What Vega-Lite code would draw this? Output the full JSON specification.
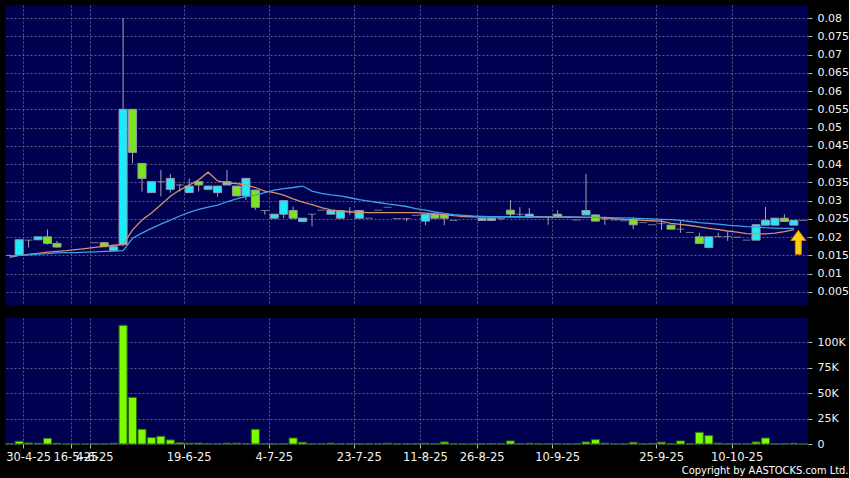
{
 "$schema": "https://vega.github.io/schema/vega-lite/v6.json",
 "background": "#000000",
 "padding": {"left": 5, "top": 5, "right": 0, "bottom": 2},
 "datasets": {
  "k": [
   {"d":"25-4-25","o":0.015,"h":0.0153,"l":0.0148,"c":0.015,"v":300,"m1":0.0145,"m2":0.0148},
   {"d":"29-4-25","o":0.015,"h":0.0193,"l":0.015,"c":0.0193,"v":2700,"m1":0.015,"m2":0.015},
   {"d":"30-4-25","o":0.0192,"h":0.0192,"l":0.0172,"c":0.0192,"v":1000,"m1":0.0153,"m2":0.0152},
   {"d":"2-5-25","o":0.0193,"h":0.0201,"l":0.0192,"c":0.0201,"v":700,"m1":0.0156,"m2":0.0154},
   {"d":"6-5-25","o":0.0201,"h":0.0221,"l":0.018,"c":0.0183,"v":5600,"m1":0.0159,"m2":0.0155},
   {"d":"9-5-25","o":0.0183,"h":0.019,"l":0.0172,"c":0.0173,"v":700,"m1":0.0161,"m2":0.0157},
   {"d":"13-5-25","o":null,"h":null,"l":null,"c":null,"v":0,"m1":0.0163,"m2":0.0158},
   {"d":"16-5-25","o":null,"h":null,"l":null,"c":null,"v":0,"m1":0.0166,"m2":0.0158},
   {"d":"23-5-25","o":null,"h":null,"l":null,"c":null,"v":0,"m1":0.0169,"m2":0.0159},
   {"d":"4-6-25","o":0.0185,"h":0.0185,"l":0.0185,"c":0.0185,"v":300,"m1":0.0172,"m2":0.016},
   {"d":"5-6-25","o":0.0185,"h":0.0185,"l":0.0174,"c":0.0174,"v":200,"m1":0.0175,"m2":0.0161},
   {"d":"6-6-25","o":0.0163,"h":0.0174,"l":0.0163,"c":0.0174,"v":700,"m1":0.0178,"m2":0.0162},
   {"d":"9-6-25","o":0.018,"h":0.08,"l":0.0175,"c":0.055,"v":116800,"m1":0.018,"m2":0.0163},
   {"d":"10-6-25","o":0.055,"h":0.055,"l":0.0402,"c":0.0432,"v":45900,"m1":0.022,"m2":0.0197},
   {"d":"11-6-25","o":0.0402,"h":0.0402,"l":0.0325,"c":0.0361,"v":14500,"m1":0.0247,"m2":0.0211},
   {"d":"12-6-25","o":0.0322,"h":0.0352,"l":0.0322,"c":0.0352,"v":6300,"m1":0.0266,"m2":0.0224},
   {"d":"13-6-25","o":0.0352,"h":0.0384,"l":0.0312,"c":0.0352,"v":7600,"m1":0.0289,"m2":0.0236},
   {"d":"16-6-25","o":0.0331,"h":0.0373,"l":0.0322,"c":0.0361,"v":4000,"m1":0.0312,"m2":0.0247},
   {"d":"17-6-25","o":0.0343,"h":0.0345,"l":0.0325,"c":0.0343,"v":1200,"m1":0.0329,"m2":0.0258},
   {"d":"19-6-25","o":0.0322,"h":0.0361,"l":0.0322,"c":0.034,"v":800,"m1":0.0343,"m2":0.0268},
   {"d":"20-6-25","o":0.0352,"h":0.0352,"l":0.0325,"c":0.0343,"v":900,"m1":0.0357,"m2":0.0276},
   {"d":"23-6-25","o":0.0331,"h":0.034,"l":0.0331,"c":0.034,"v":300,"m1":0.0378,"m2":0.0282},
   {"d":"24-6-25","o":0.0322,"h":0.034,"l":0.0311,"c":0.034,"v":300,"m1":0.0354,"m2":0.0288},
   {"d":"25-6-25","o":0.0343,"h":0.0384,"l":0.0343,"c":0.0352,"v":800,"m1":0.0349,"m2":0.0297},
   {"d":"26-6-25","o":0.034,"h":0.034,"l":0.0313,"c":0.0313,"v":800,"m1":0.0347,"m2":0.0305},
   {"d":"27-6-25","o":0.0313,"h":0.0361,"l":0.0302,"c":0.0361,"v":400,"m1":0.0343,"m2":0.0311},
   {"d":"30-6-25","o":0.0329,"h":0.0329,"l":0.0275,"c":0.0282,"v":14500,"m1":0.0336,"m2":0.0315},
   {"d":"3-7-25","o":0.0273,"h":0.0273,"l":0.0262,"c":0.0273,"v":500,"m1":0.0326,"m2":0.0322},
   {"d":"4-7-25","o":0.0252,"h":0.0263,"l":0.0252,"c":0.0263,"v":200,"m1":0.0322,"m2":0.0329},
   {"d":"7-7-25","o":0.0263,"h":0.03,"l":0.0252,"c":0.03,"v":300,"m1":0.0315,"m2":0.0333},
   {"d":"8-7-25","o":0.0273,"h":0.0284,"l":0.0252,"c":0.0252,"v":5900,"m1":0.0305,"m2":0.0336},
   {"d":"9-7-25","o":0.0243,"h":0.0252,"l":0.0243,"c":0.0252,"v":1700,"m1":0.0296,"m2":0.034},
   {"d":"10-7-25","o":0.0263,"h":0.0263,"l":0.023,"c":0.0263,"v":300,"m1":0.0289,"m2":0.0326},
   {"d":"11-7-25","o":0.0274,"h":0.0274,"l":0.0274,"c":0.0274,"v":300,"m1":0.0281,"m2":0.032},
   {"d":"14-7-25","o":0.0263,"h":0.0273,"l":0.0263,"c":0.0273,"v":800,"m1":0.0275,"m2":0.0316},
   {"d":"15-7-25","o":0.0252,"h":0.0273,"l":0.0252,"c":0.0273,"v":300,"m1":0.0272,"m2":0.0313},
   {"d":"17-7-25","o":0.0271,"h":0.0282,"l":0.0261,"c":0.0271,"v":300,"m1":0.0269,"m2":0.0308},
   {"d":"23-7-25","o":0.0252,"h":0.0273,"l":0.0252,"c":0.0273,"v":300,"m1":0.0268,"m2":0.0303},
   {"d":"24-7-25","o":0.0252,"h":0.0252,"l":0.0252,"c":0.0252,"v":200,"m1":0.0267,"m2":0.0299},
   {"d":"25-7-25","o":0.0274,"h":0.0274,"l":0.0274,"c":0.0274,"v":200,"m1":0.0267,"m2":0.0295},
   {"d":"28-7-25","o":0.0282,"h":0.0282,"l":0.0282,"c":0.0282,"v":700,"m1":0.0267,"m2":0.0291},
   {"d":"30-7-25","o":0.0251,"h":0.0251,"l":0.0251,"c":0.0251,"v":200,"m1":0.0267,"m2":0.0288},
   {"d":"1-8-25","o":0.0251,"h":0.0251,"l":0.0244,"c":0.0251,"v":200,"m1":0.0267,"m2":0.0284},
   {"d":"6-8-25","o":0.026,"h":0.026,"l":0.026,"c":0.026,"v":500,"m1":0.0267,"m2":0.0278},
   {"d":"11-8-25","o":0.0244,"h":0.0263,"l":0.0233,"c":0.0263,"v":700,"m1":0.0266,"m2":0.0274},
   {"d":"12-8-25","o":0.0263,"h":0.0263,"l":0.0252,"c":0.0252,"v":300,"m1":0.0264,"m2":0.0269},
   {"d":"14-8-25","o":0.0263,"h":0.0263,"l":0.0233,"c":0.0252,"v":2000,"m1":0.0262,"m2":0.0265},
   {"d":"18-8-25","o":0.0246,"h":0.0246,"l":0.0246,"c":0.0246,"v":200,"m1":0.0259,"m2":0.0262},
   {"d":"20-8-25","o":0.0256,"h":0.0256,"l":0.0256,"c":0.0256,"v":100,"m1":0.0257,"m2":0.026},
   {"d":"22-8-25","o":0.0256,"h":0.0256,"l":0.0256,"c":0.0256,"v":100,"m1":0.0256,"m2":0.0258},
   {"d":"26-8-25","o":0.0246,"h":0.0252,"l":0.0246,"c":0.0252,"v":300,"m1":0.0256,"m2":0.0257},
   {"d":"27-8-25","o":0.0246,"h":0.0252,"l":0.0246,"c":0.0252,"v":500,"m1":0.0256,"m2":0.0256},
   {"d":"28-8-25","o":0.0251,"h":0.0251,"l":0.0246,"c":0.0251,"v":500,"m1":0.0256,"m2":0.0256},
   {"d":"1-9-25","o":0.0274,"h":0.0302,"l":0.0252,"c":0.0263,"v":3000,"m1":0.0256,"m2":0.0256},
   {"d":"2-9-25","o":0.0263,"h":0.0282,"l":0.0252,"c":0.0263,"v":300,"m1":0.0256,"m2":0.0256},
   {"d":"3-9-25","o":0.0255,"h":0.028,"l":0.0255,"c":0.0263,"v":700,"m1":0.0256,"m2":0.0256},
   {"d":"5-9-25","o":0.0256,"h":0.0256,"l":0.0256,"c":0.0256,"v":200,"m1":0.0256,"m2":0.0255},
   {"d":"8-9-25","o":0.0256,"h":0.0256,"l":0.0234,"c":0.0256,"v":200,"m1":0.0255,"m2":0.0255},
   {"d":"10-9-25","o":0.0263,"h":0.0274,"l":0.0255,"c":0.0255,"v":300,"m1":0.0255,"m2":0.0255},
   {"d":"11-9-25","o":0.0256,"h":0.0256,"l":0.0256,"c":0.0256,"v":200,"m1":0.0255,"m2":0.0255},
   {"d":"12-9-25","o":0.0247,"h":0.0247,"l":0.0247,"c":0.0247,"v":200,"m1":0.0255,"m2":0.0255},
   {"d":"15-9-25","o":0.0261,"h":0.0373,"l":0.0261,"c":0.0273,"v":2000,"m1":0.0254,"m2":0.0254},
   {"d":"16-9-25","o":0.0261,"h":0.0261,"l":0.0244,"c":0.0244,"v":4300,"m1":0.0254,"m2":0.0254},
   {"d":"17-9-25","o":0.025,"h":0.0256,"l":0.0234,"c":0.025,"v":800,"m1":0.0252,"m2":0.0254},
   {"d":"18-9-25","o":0.0247,"h":0.0247,"l":0.0247,"c":0.0247,"v":200,"m1":0.0251,"m2":0.0253},
   {"d":"19-9-25","o":0.0245,"h":0.0245,"l":0.0245,"c":0.0245,"v":200,"m1":0.0249,"m2":0.0253},
   {"d":"22-9-25","o":0.0249,"h":0.0255,"l":0.0222,"c":0.0234,"v":1700,"m1":0.0248,"m2":0.0252},
   {"d":"23-9-25","o":0.024,"h":0.024,"l":0.024,"c":0.024,"v":200,"m1":0.0246,"m2":0.0251},
   {"d":"24-9-25","o":0.0234,"h":0.0234,"l":0.0234,"c":0.0234,"v":600,"m1":0.0245,"m2":0.025},
   {"d":"25-9-25","o":0.0237,"h":0.0247,"l":0.022,"c":0.0237,"v":1800,"m1":0.0244,"m2":0.0249},
   {"d":"26-9-25","o":0.0233,"h":0.0233,"l":0.0222,"c":0.0222,"v":300,"m1":0.0238,"m2":0.0248},
   {"d":"29-9-25","o":0.0222,"h":0.0244,"l":0.0212,"c":0.0222,"v":3000,"m1":0.0235,"m2":0.0246},
   {"d":"30-9-25","o":0.0213,"h":0.0213,"l":0.0213,"c":0.0213,"v":200,"m1":0.0232,"m2":0.0243},
   {"d":"2-10-25","o":0.0201,"h":0.0212,"l":0.0183,"c":0.0183,"v":11500,"m1":0.0228,"m2":0.024},
   {"d":"3-10-25","o":0.0172,"h":0.0201,"l":0.0172,"c":0.0201,"v":8300,"m1":0.0224,"m2":0.0238},
   {"d":"6-10-25","o":0.0202,"h":0.0212,"l":0.0202,"c":0.0202,"v":800,"m1":0.0221,"m2":0.0236},
   {"d":"8-10-25","o":0.0202,"h":0.0215,"l":0.019,"c":0.0202,"v":200,"m1":0.0217,"m2":0.0233},
   {"d":"10-10-25","o":0.02,"h":0.02,"l":0.02,"c":0.02,"v":500,"m1":0.0214,"m2":0.0231},
   {"d":"13-10-25","o":0.0192,"h":0.0192,"l":0.0192,"c":0.0192,"v":200,"m1":0.021,"m2":0.0229},
   {"d":"14-10-25","o":0.0192,"h":0.0234,"l":0.0192,"c":0.0234,"v":2000,"m1":0.0209,"m2":0.0228},
   {"d":"15-10-25","o":0.0233,"h":0.0283,"l":0.0233,"c":0.0246,"v":5900,"m1":0.0209,"m2":0.0226},
   {"d":"16-10-25","o":0.0233,"h":0.0252,"l":0.0233,"c":0.0252,"v":300,"m1":0.0211,"m2":0.0225},
   {"d":"17-10-25","o":0.0252,"h":0.0263,"l":0.0243,"c":0.0243,"v":300,"m1":0.0215,"m2":0.0224},
   {"d":"20-10-25","o":0.0233,"h":0.0246,"l":0.0233,"c":0.0246,"v":700,"m1":0.0221,"m2":0.0224},
   {"d":"21-10-25","o":0.0246,"h":0.0246,"l":0.0246,"c":0.0246,"v":0,"m1":null,"m2":null}
  ],
  "arrow": [{"d":"20-10-25","p":0.0186}]
 },
 "data": {"name": "k"},
 "spacing": 13,
 "bounds": "flush",
 "resolve": {"scale": {"x": "shared"}},
 "title": {"text": "Copyright by AASTOCKS.com Ltd.", "orient": "bottom", "anchor": "end", "fontSize": 11, "font": "DejaVu Sans Condensed, Liberation Sans Narrow, DejaVu Sans", "fontWeight": "normal", "color": "#ffffff", "offset": 2},
 "vconcat": [
  {
   "width": 803,
   "height": 300,
   "layer": [
    {
     "mark": {"type": "rule", "color": "#a4a4ac", "strokeWidth": 1},
     "transform": [{"filter": "datum.h != null"}],
     "encoding": {
      "x": {"field": "d", "type": "ordinal", "sort": null,
            "scale": {"type": "band", "paddingInner": 0, "paddingOuter": 0, "domain": ["25-4-25","29-4-25","30-4-25","2-5-25","6-5-25","9-5-25","13-5-25","16-5-25","23-5-25","4-6-25","5-6-25","6-6-25","9-6-25","10-6-25","11-6-25","12-6-25","13-6-25","16-6-25","17-6-25","19-6-25","20-6-25","23-6-25","24-6-25","25-6-25","26-6-25","27-6-25","30-6-25","3-7-25","4-7-25","7-7-25","8-7-25","9-7-25","10-7-25","11-7-25","14-7-25","15-7-25","17-7-25","23-7-25","24-7-25","25-7-25","28-7-25","30-7-25","1-8-25","6-8-25","11-8-25","12-8-25","14-8-25","18-8-25","20-8-25","22-8-25","26-8-25","27-8-25","28-8-25","1-9-25","2-9-25","3-9-25","5-9-25","8-9-25","10-9-25","11-9-25","12-9-25","15-9-25","16-9-25","17-9-25","18-9-25","19-9-25","22-9-25","23-9-25","24-9-25","25-9-25","26-9-25","29-9-25","30-9-25","2-10-25","3-10-25","6-10-25","8-10-25","10-10-25","13-10-25","14-10-25","15-10-25","16-10-25","17-10-25","20-10-25","21-10-25"]},
            "axis": {"labels": false, "ticks": false, "domain": false, "grid": true, "bandPosition": 0, "title": null,
                     "values": ["30-4-25","16-5-25","4-6-25","19-6-25","4-7-25","23-7-25","11-8-25","26-8-25","10-9-25","25-9-25","10-10-25"]}},
      "y": {"field": "l", "type": "quantitative",
            "scale": {"domain": [0.00144, 0.08356], "nice": false, "zero": false},
            "axis": {"orient": "right", "title": null, "values": [0.005,0.01,0.015,0.02,0.025,0.03,0.035,0.04,0.045,0.05,0.055,0.06,0.065,0.07,0.075,0.08], "tickCount": 20, "format": ".3~f", "grid": true, "tickSize": 4, "labelPadding": 5, "labelOverlap": false, "labelFontSize": 11}},
      "y2": {"field": "h"}
     }
    },
    {
     "mark": {"type": "bar", "width": {"band": 0.85}, "stroke": "#9a9aac", "strokeWidth": 1},
     "transform": [{"filter": "datum.o != null && datum.o != datum.c"}],
     "encoding": {
      "x": {"field": "d", "type": "ordinal", "sort": null},
      "y": {"field": "o", "type": "quantitative"},
      "y2": {"field": "c"},
      "fill": {"condition": {"test": "datum.c > datum.o", "value": "#1cecfa"}, "value": "#7ae51a"}
     }
    },
    {
     "mark": {"type": "tick", "color": "#a4a4ac", "thickness": 1, "size": 8},
     "transform": [{"filter": "datum.o != null && datum.o == datum.c"}],
     "encoding": {
      "x": {"field": "d", "type": "ordinal", "sort": null},
      "y": {"field": "o", "type": "quantitative"}
     }
    },
    {
     "mark": {"type": "line", "color": "#d4916a", "strokeWidth": 1.3},
     "transform": [{"filter": "datum.m1 != null"}],
     "encoding": {
      "x": {"field": "d", "type": "ordinal", "sort": null},
      "y": {"field": "m1", "type": "quantitative"}
     }
    },
    {
     "mark": {"type": "line", "color": "#3d9fe6", "strokeWidth": 1.3},
     "transform": [{"filter": "datum.m2 != null"}],
     "encoding": {
      "x": {"field": "d", "type": "ordinal", "sort": null},
      "y": {"field": "m2", "type": "quantitative"}
     }
    },
    {
     "data": {"name": "arrow"},
     "mark": {"type": "point", "shape": "M0,-1L0.62,-0.15L0.25,-0.15L0.25,1L-0.25,1L-0.25,-0.15L-0.62,-0.15Z", "size": 576, "filled": true, "fill": "#ffcc11", "stroke": "#c88a00", "strokeWidth": 1, "opacity": 1, "xOffset": 4.5},
     "encoding": {
      "x": {"field": "d", "type": "ordinal", "sort": null},
      "y": {"field": "p", "type": "quantitative"}
     }
    }
   ]
  },
  {
   "width": 803,
   "height": 126,
   "mark": {"type": "bar", "width": {"band": 0.85}, "fill": "#7cfc00", "stroke": "#2f6a0c", "strokeWidth": 1},
   "encoding": {
    "x": {"field": "d", "type": "ordinal", "sort": null,
          "axis": {"grid": true, "bandPosition": 0, "title": null, "labelOverlap": false, "labelBound": false, "labelFlush": false, "labelFontSize": 11.5, "tickSize": 4, "labelPadding": 3, "labelAngle": 0,
                   "values": ["30-4-25","16-5-25","4-6-25","19-6-25","4-7-25","23-7-25","11-8-25","26-8-25","10-9-25","25-9-25","10-10-25"]}},
    "y": {"field": "v", "type": "quantitative",
          "scale": {"domain": [0, 124000], "nice": false},
          "axis": {"orient": "right", "title": null, "values": [0, 25000, 50000, 75000, 100000], "tickCount": 10, "labelExpr": "datum.value == 0 ? '0' : (datum.value / 1000) + 'K'", "grid": true, "tickSize": 4, "labelPadding": 5, "labelOverlap": false}}
   }
  }
 ],
 "config": {
  "view": {"fill": "#000050", "stroke": null},
  "axis": {"labelColor": "#f2f2f2", "labelFont": "DejaVu Sans", "labelFontSize": 11, "tickColor": "#bbbbbb", "gridColor": "#5a5a88", "gridDash": [2, 2], "gridWidth": 1, "domain": false}
 }
}
